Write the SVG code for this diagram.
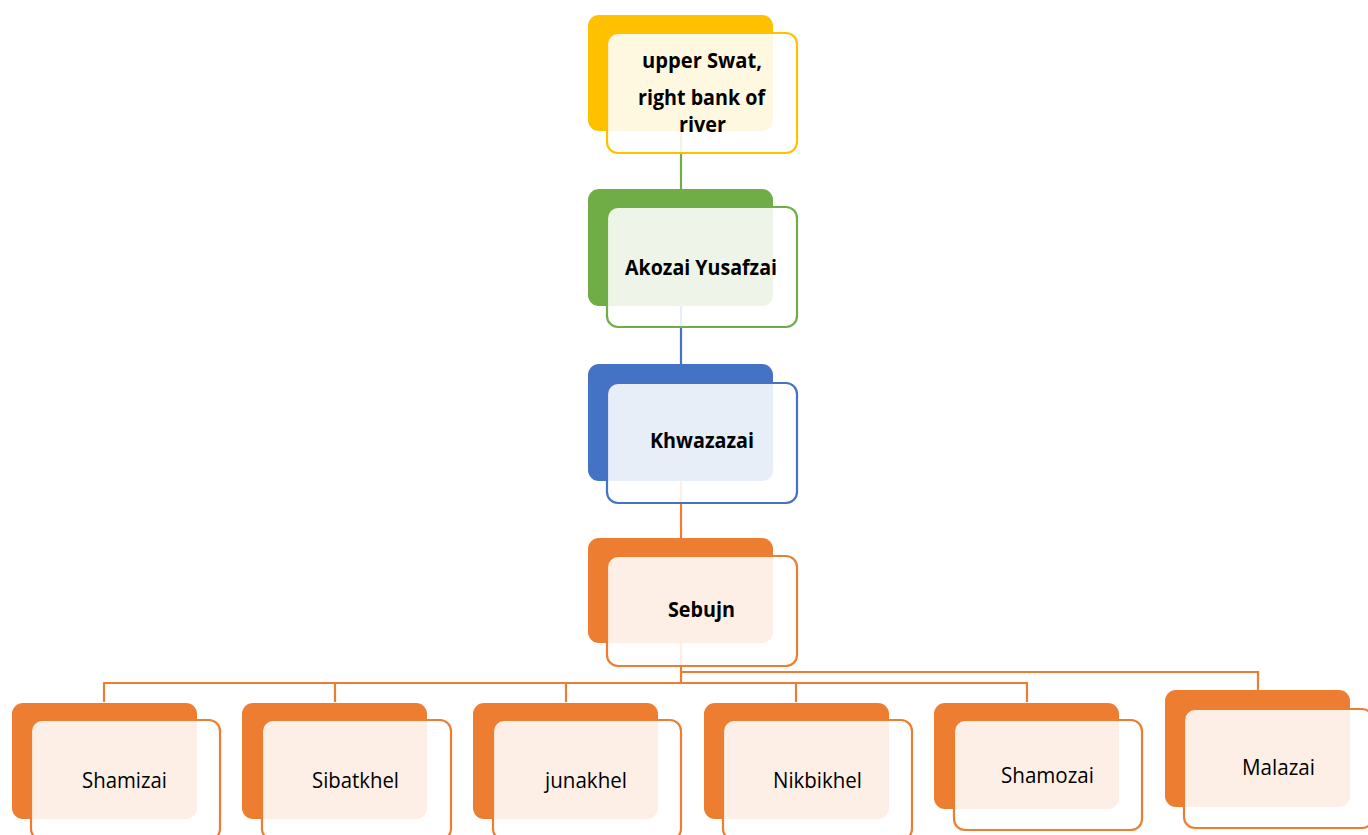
<svg xmlns="http://www.w3.org/2000/svg" width="1368" height="835" viewBox="0 0 1368 835">
<style>
.bk{stroke:none}
.fr{fill:#ffffff;fill-opacity:0.88;stroke-width:2.2}
.y .bk{fill:#FFC000}.y .fr{stroke:#FFC000}
.g .bk{fill:#70AD47}.g .fr{stroke:#70AD47}
.b .bk{fill:#4472C4}.b .fr{stroke:#4472C4}
.o .bk{fill:#ED7D31}.o .fr{stroke:#ED7D31}
.tb{font-family:"Open Sans","Liberation Sans",sans-serif;font-weight:bold;font-size:20.5px;fill:#000}
.tr{font-family:"Open Sans","Liberation Sans",sans-serif;font-size:21.5px;fill:#000}
.c{fill:none;stroke-width:2.2}
</style>
<rect width="1368" height="835" fill="#ffffff"/>
<g id="connectors">
<path class="c" stroke="#70AD47" d="M681 131V189"/>
<path class="c" stroke="#4472C4" d="M681 306V364"/>
<path class="c" stroke="#ED7D31" d="M681 481V538"/>
<path class="c" stroke="#ED7D31" d="M681 643V683M104 702V683H1027V702M335 683V702M566 683V702M796 683V702M681 672H1258V690"/>
</g>
<g id="node-upper-swat" class="y">
<rect class="bk" x="588" y="15" width="185" height="116" rx="11"/>
<rect class="fr" x="607" y="33" width="190" height="120" rx="11"/>
<text class="tb" x="642" y="68" textLength="120" lengthAdjust="spacingAndGlyphs">upper Swat,</text>
<text class="tb" x="638" y="105" textLength="127" lengthAdjust="spacingAndGlyphs">right bank of</text>
<text class="tb" x="679" y="132" textLength="47" lengthAdjust="spacingAndGlyphs">river</text>
</g>
<g id="node-akozai" class="g">
<rect class="bk" x="588" y="189" width="185" height="117" rx="11"/>
<rect class="fr" x="607" y="207" width="190" height="120" rx="11"/>
<text class="tb" x="625" y="275" textLength="152" lengthAdjust="spacingAndGlyphs">Akozai Yusafzai</text>
</g>
<g id="node-khwazazai" class="b">
<rect class="bk" x="588" y="364" width="185" height="117" rx="11"/>
<rect class="fr" x="607" y="383" width="190" height="120" rx="11"/>
<text class="tb" x="650" y="448" textLength="104" lengthAdjust="spacingAndGlyphs">Khwazazai</text>
</g>
<g id="node-sebujn" class="o">
<rect class="bk" x="588" y="538" width="185" height="105" rx="11"/>
<rect class="fr" x="607" y="556" width="190" height="110" rx="11"/>
<text class="tb" x="668" y="617" textLength="67" lengthAdjust="spacingAndGlyphs">Sebujn</text>
</g>
<g id="node-shamizai" class="o">
<rect class="bk" x="12" y="703" width="185" height="116" rx="11"/>
<rect class="fr" x="31" y="720" width="189" height="120" rx="11"/>
<text class="tr" x="82" y="788" textLength="85" lengthAdjust="spacingAndGlyphs">Shamizai</text>
</g>
<g id="node-sibatkhel" class="o">
<rect class="bk" x="242" y="703" width="185" height="116" rx="11"/>
<rect class="fr" x="262" y="720" width="189" height="120" rx="11"/>
<text class="tr" x="312" y="788" textLength="87" lengthAdjust="spacingAndGlyphs">Sibatkhel</text>
</g>
<g id="node-junakhel" class="o">
<rect class="bk" x="473" y="703" width="185" height="116" rx="11"/>
<rect class="fr" x="493" y="720" width="188" height="120" rx="11"/>
<text class="tr" x="545" y="788" textLength="82" lengthAdjust="spacingAndGlyphs">junakhel</text>
</g>
<g id="node-nikbikhel" class="o">
<rect class="bk" x="704" y="703" width="185" height="116" rx="11"/>
<rect class="fr" x="723" y="720" width="189" height="120" rx="11"/>
<text class="tr" x="773" y="788" textLength="89" lengthAdjust="spacingAndGlyphs">Nikbikhel</text>
</g>
<g id="node-shamozai" class="o">
<rect class="bk" x="934" y="703" width="185" height="106" rx="11"/>
<rect class="fr" x="954" y="720" width="188" height="110" rx="11"/>
<text class="tr" x="1001" y="783" textLength="93" lengthAdjust="spacingAndGlyphs">Shamozai</text>
</g>
<g id="node-malazai" class="o">
<rect class="bk" x="1165" y="690" width="185" height="117" rx="11"/>
<rect class="fr" x="1184" y="709" width="189" height="119" rx="11"/>
<text class="tr" x="1242" y="775" textLength="73" lengthAdjust="spacingAndGlyphs">Malazai</text>
</g>
</svg>
